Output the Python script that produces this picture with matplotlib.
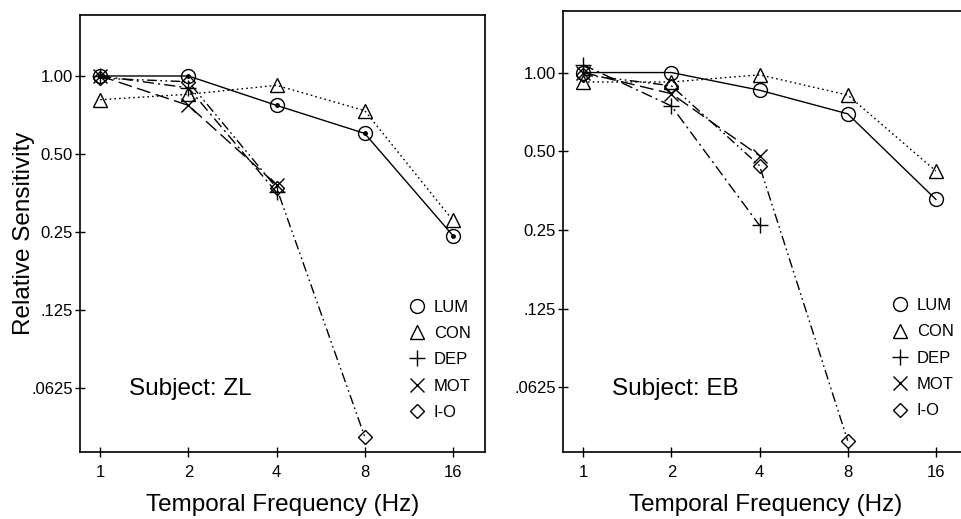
import matplotlib
matplotlib.use("Agg")
import matplotlib.pyplot as plt
from matplotlib.ticker import FixedLocator, NullLocator

plt.rcParams["font.family"] = ["Liberation Sans", "DejaVu Sans"]

freqs = [1, 2, 4, 8, 16]

# Subject ZL
lum_zl = [1.00, 1.00, 0.77, 0.60, 0.242]
con_zl = [0.81, 0.85, 0.92, 0.735, 0.277]
dep_zl = [1.00, 0.90, 0.355]
mot_zl = [1.00, 0.77, 0.38]
io_zl = [0.98, 0.95, 0.37, 0.0405]

# Subject EB
lum_eb = [1.00, 1.00, 0.856, 0.695, 0.327]
con_eb = [0.92, 0.92, 0.98, 0.82, 0.42]
dep_eb = [1.07, 0.745, 0.26]
mot_eb = [1.00, 0.83, 0.48]
io_eb = [0.98, 0.89, 0.44, 0.039]

y_ticks = [1.0, 0.5, 0.25, 0.125, 0.0625]
y_tick_labels = ["1.00", "0.50", "0.25", ".125", ".0625"]
x_tick_labels = ["1", "2", "4", "8", "16"]

SERIES_STYLE = {
    "LUM": dict(marker="o", linestyle="-", ms=10),
    "CON": dict(marker="^", linestyle=(0, (1.2, 2.2)), ms=10),
    "DEP": dict(marker="+", linestyle=(0, (8, 3, 1.5, 3)), ms=12),
    "MOT": dict(marker="x", linestyle=(0, (10, 4)), ms=10),
    "I-O": dict(marker="D", linestyle=(0, (7, 2.5, 1.2, 2.5, 1.2, 2.5)), ms=7),
}


def draw_panel(ax, series, subject, center_dot):
    for name, values in series.items():
        style = SERIES_STYLE[name]
        ax.plot(
            freqs[: len(values)],
            values,
            color="black",
            linewidth=1.0,
            markerfacecolor="none",
            markeredgecolor="black",
            markeredgewidth=1.0,
            label=name,
            **style,
        )
    if center_dot:
        lum = series["LUM"]
        ax.plot(freqs[: len(lum)], lum, linestyle="none", marker="o", ms=2.5, color="black")

    ax.set_xscale("log", base=2)
    ax.set_yscale("log", base=2)
    ax.set_xlim(0.853, 20.6)
    ax.set_ylim(0.0353, 1.72)

    ax.xaxis.set_major_locator(FixedLocator(freqs))
    ax.xaxis.set_minor_locator(NullLocator())
    ax.set_xticklabels(x_tick_labels)
    ax.yaxis.set_major_locator(FixedLocator(y_ticks))
    ax.yaxis.set_minor_locator(NullLocator())
    ax.set_yticklabels(y_tick_labels)
    ax.tick_params(axis="both", direction="inout", length=7, width=1.0,
                   labelsize=12, pad=6)
    ax.tick_params(axis="y", pad=1.5)
    for spine in ax.spines.values():
        spine.set_linewidth(1.2)

    ax.set_xlabel("Temporal Frequency (Hz)", fontsize=17.5, labelpad=10)
    ax.text(0.12, 0.13, f"Subject: {subject}", transform=ax.transAxes,
            fontsize=17.5, va="baseline", ha="left")

    leg = ax.legend(
        loc="upper left",
        bbox_to_anchor=(0.812, 0.368),
        frameon=False,
        handlelength=0,
        handletextpad=1.0,
        labelspacing=0.68,
        borderpad=0,
        fontsize=12,
    )
    for handle in leg.legend_handles:
        handle.set_linestyle("none")


fig = plt.figure(figsize=(9.61, 5.19), dpi=100)
ax_zl = fig.add_axes([80 / 961, 1 - 452 / 519, 405 / 961, 437 / 519])
ax_eb = fig.add_axes([563 / 961, 1 - 452 / 519, 405 / 961, 441 / 519])

draw_panel(ax_zl, {"LUM": lum_zl, "CON": con_zl, "DEP": dep_zl, "MOT": mot_zl, "I-O": io_zl},
           "ZL", True)
draw_panel(ax_eb, {"LUM": lum_eb, "CON": con_eb, "DEP": dep_eb, "MOT": mot_eb, "I-O": io_eb},
           "EB", False)

ax_zl.set_ylabel("Relative Sensitivity", fontsize=17.5)
ax_zl.yaxis.set_label_coords(-0.112, 0.5)

fig.savefig("out.png", dpi=100)
